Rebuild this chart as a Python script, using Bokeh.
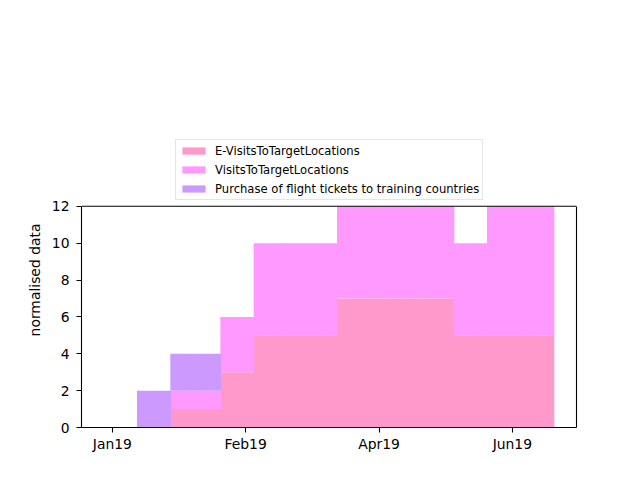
from bokeh.plotting import figure
from bokeh.models import ColumnDataSource, FixedTicker, Range1d, Legend, LinearAxis, Span
from bokeh.embed import file_html
from bokeh.resources import INLINE

# weekly bins (week index 0..26)
weeks = list(range(27))
e_visits = [0, 0, 0, 0, 1, 1, 1, 3, 3, 5, 5, 5, 5, 5, 7, 7, 7, 7, 7, 7, 7, 5, 5, 5, 5, 5, 5]
visits = [0, 0, 0, 0, 1, 1, 1, 3, 3, 5, 5, 5, 5, 5, 5, 5, 5, 5, 5, 5, 5, 5, 5, 7, 7, 7, 7]
purchase = [0, 0, 2, 2, 2, 2, 2, 0, 0, 0, 0, 0, 0, 0, 0, 0, 0, 0, 0, 0, 0, 0, 0, 0, 0, 0, 0]

series = ["e", "v", "p"]
labels = ["E-VisitsToTargetLocations", "VisitsToTargetLocations",
          "Purchase of flight tickets to training countries"]
colors = ["#ff99cc", "#ff99ff", "#cc99ff"]

tick_pos = [0, 8, 16, 24]
tick_labels = ["Jan19", "Feb19", "Apr19", "Jun19"]
y_ticks = [0, 2, 4, 6, 8, 10, 12]
y_max = 12

src = ColumnDataSource(dict(x=weeks, e=e_visits, v=visits, p=purchase))

p = figure(width=624, height=464, output_backend="svg", toolbar_location=None,
           title=None,
           x_range=Range1d(-1.85, 27.85), y_range=Range1d(0, 16),
           min_border_left=81, min_border_right=48, min_border_top=132,
           min_border_bottom=37)

# slight overlap of neighbouring weekly bars avoids anti-aliasing seams
renderers = p.vbar_stack(series, x="x", width=1.04, source=src,
                         fill_color=colors, line_color=None)

p.xgrid.visible = False
p.ygrid.visible = False
p.outline_line_color = None
p.background_fill_color = "white"
p.border_fill_color = "white"

font = "DejaVu Sans"
for ax in (p.xaxis[0], p.yaxis[0]):
    ax.axis_line_color = "black"
    ax.axis_line_width = 1.1
    ax.major_tick_line_color = "black"
    ax.major_tick_line_width = 1.1
    ax.major_tick_in = 0
    ax.major_tick_out = 5
    ax.minor_tick_line_color = None
    ax.major_label_text_font = font
    ax.major_label_text_font_size = "13.9px"
    ax.major_label_text_color = "black"
    ax.axis_label_text_font = font
    ax.axis_label_text_font_size = "13.9px"
    ax.axis_label_text_font_style = "normal"
    ax.axis_label_text_color = "black"

p.xaxis.ticker = FixedTicker(ticks=tick_pos)
p.xaxis.major_label_overrides = {t: l for t, l in zip(tick_pos, tick_labels)}
p.xaxis.major_label_standoff = 3

p.yaxis.ticker = FixedTicker(ticks=y_ticks)
p.yaxis.bounds = (0, y_max)
p.yaxis.major_label_standoff = 7
p.yaxis.axis_label = "normalised data"
p.yaxis.axis_label_standoff = 6

# right spine
right = LinearAxis(bounds=(0, y_max), ticker=FixedTicker(ticks=[]),
                   major_label_text_font_size="0px", axis_line_color="black",
                   axis_line_width=1.1, major_tick_line_color=None,
                   minor_tick_line_color=None)
p.add_layout(right, "right")
# top spine
p.add_layout(Span(location=y_max, dimension="width", line_color="black", line_width=1.1))

legend = Legend(items=[(lab, [r]) for lab, r in zip(labels, renderers)],
                location=(94, 227), orientation="vertical")
legend.label_text_font = font
legend.label_text_font_size = "11.6px"
legend.label_text_color = "black"
legend.label_height = 15
legend.glyph_width = 29
legend.glyph_height = 9
legend.label_standoff = 7
legend.spacing = 4
legend.padding = 3
legend.margin = 0
legend.border_line_color = "#cccccc"
legend.border_line_width = 1
legend.background_fill_color = "white"
legend.background_fill_alpha = 0.8
p.add_layout(legend, "center")

open("out.html", "w").write(file_html(p, INLINE))
